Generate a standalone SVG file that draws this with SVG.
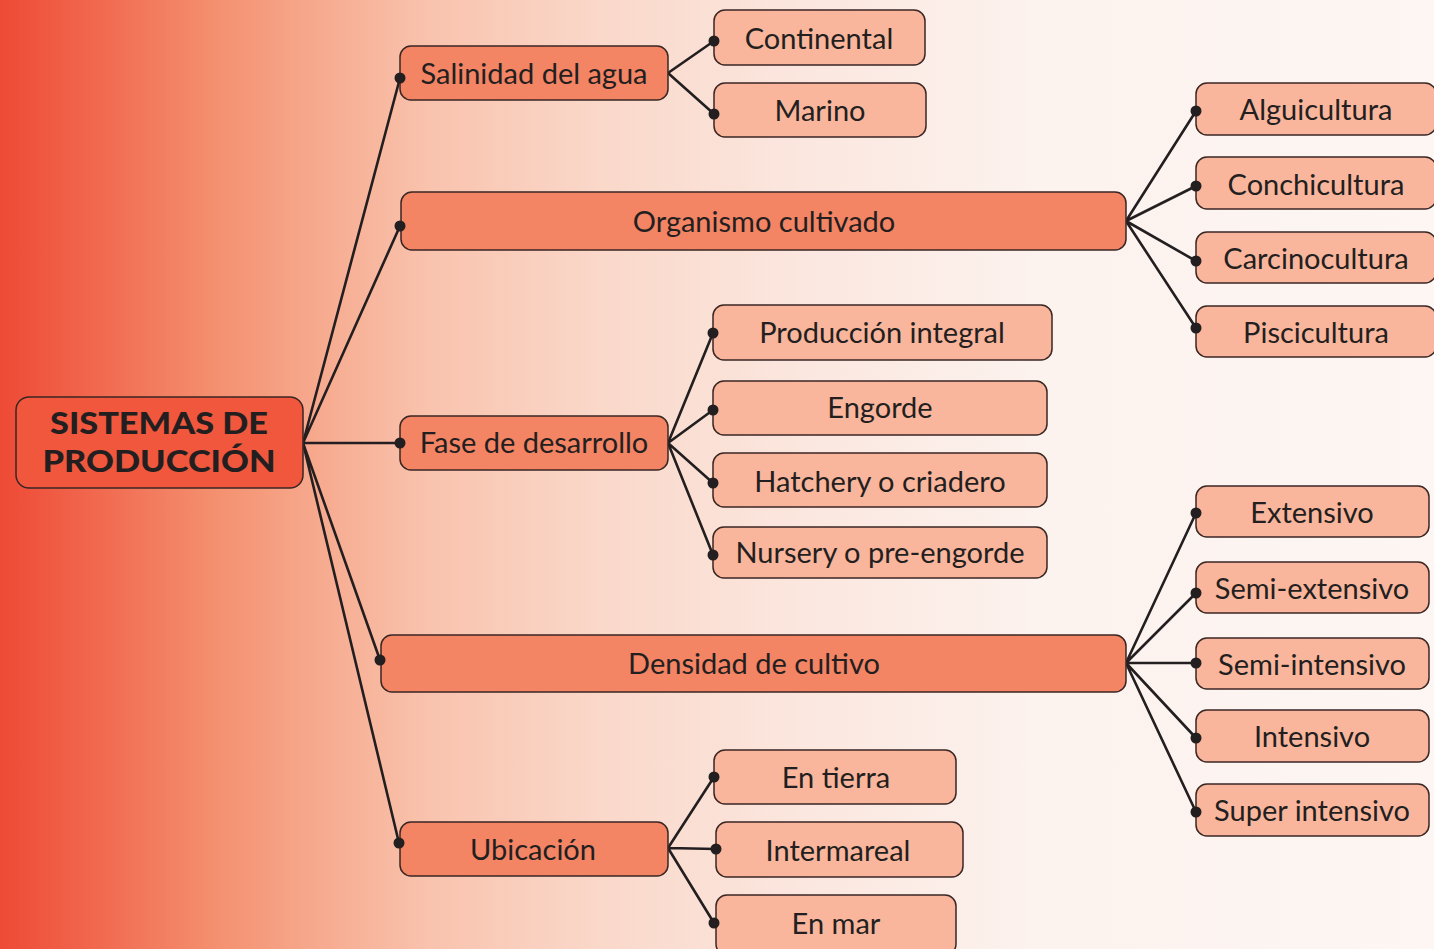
<svg xmlns="http://www.w3.org/2000/svg" width="1434" height="949" viewBox="0 0 1434 949">
<defs>
<linearGradient id="bg" x1="0" y1="0" x2="1434" y2="0" gradientUnits="userSpaceOnUse">
<stop offset="0" stop-color="#ee4a35"/>
<stop offset="0.07" stop-color="#f16a50"/>
<stop offset="0.15" stop-color="#f4906f"/>
<stop offset="0.24" stop-color="#f7b096"/>
<stop offset="0.30" stop-color="#f9c3ae"/>
<stop offset="0.42" stop-color="#fad8ca"/>
<stop offset="0.56" stop-color="#fbe7df"/>
<stop offset="0.72" stop-color="#fcf2ee"/>
<stop offset="1" stop-color="#fdf6f3"/>
</linearGradient>
<style>
.root{fill:#f0573d;stroke:#3a2623;stroke-width:1.5}
.l1{fill:#f38464;stroke:#3a2623;stroke-width:1.5}
.l2{fill:#f9b69c;stroke:#3a2623;stroke-width:1.5}
.t{font-family:Lato,"Liberation Sans",sans-serif;font-size:29px;fill:#231f20;text-anchor:middle}
.tr{font-family:Lato,"Liberation Sans",sans-serif;font-size:31px;font-weight:900;fill:#231f20;text-anchor:middle}
.c{stroke:#231f20;stroke-width:2.6;fill:none}
.d{fill:#231f20}
</style>
</defs>
<rect width="1434" height="949" fill="url(#bg)"/>
<g id="connectors">
<path class="c" d="M303 443L400 78M303 443L400 226M303 443L400 443M303 443L380 660M303 443L399 843"/>
<path class="c" d="M668 73L714 41M668 73L714 114"/>
<path class="c" d="M1126 221L1196 111M1126 221L1196 186M1126 221L1196 261M1126 221L1196 328"/>
<path class="c" d="M668 443L713 333M668 443L713 410M668 443L713 483M668 443L713 555"/>
<path class="c" d="M1126 663L1196 513M1126 663L1196 593M1126 663L1196 663M1126 663L1196 738M1126 663L1196 812"/>
<path class="c" d="M668 848L714 777M668 848L716 849M668 848L714 923"/>
</g>
<g id="root"><rect class="root" x="16" y="397" width="287" height="91" rx="13"/><text class="tr" x="159" y="434" textLength="218" lengthAdjust="spacingAndGlyphs">SISTEMAS DE</text><text class="tr" x="159" y="472" textLength="233" lengthAdjust="spacingAndGlyphs">PRODUCCIÓN</text></g>
<g id="salinidad"><rect class="l1" x="400" y="46" width="268" height="54" rx="11"/><text class="t" x="534" y="84">Salinidad del agua</text></g>
<g id="continental"><rect class="l2" x="714" y="10" width="211" height="55" rx="11"/><text class="t" x="819" y="49">Continental</text></g>
<g id="marino"><rect class="l2" x="714" y="83" width="212" height="54" rx="11"/><text class="t" x="820" y="121">Marino</text></g>
<g id="organismo"><rect class="l1" x="401" y="192" width="725" height="58" rx="11"/><text class="t" x="764" y="232">Organismo cultivado</text></g>
<g id="alguicultura"><rect class="l2" x="1196" y="83" width="240" height="52" rx="11"/><text class="t" x="1316" y="120">Alguicultura</text></g>
<g id="conchicultura"><rect class="l2" x="1196" y="157" width="240" height="52" rx="11"/><text class="t" x="1316" y="195">Conchicultura</text></g>
<g id="carcinocultura"><rect class="l2" x="1196" y="232" width="240" height="51" rx="11"/><text class="t" x="1316" y="269">Carcinocultura</text></g>
<g id="piscicultura"><rect class="l2" x="1196" y="306" width="240" height="51" rx="11"/><text class="t" x="1316" y="343">Piscicultura</text></g>
<g id="fase"><rect class="l1" x="400" y="416" width="268" height="54" rx="11"/><text class="t" x="534" y="453">Fase de desarrollo</text></g>
<g id="produccion"><rect class="l2" x="713" y="305" width="339" height="55" rx="11"/><text class="t" x="882" y="343">Producción integral</text></g>
<g id="engorde"><rect class="l2" x="713" y="381" width="334" height="54" rx="11"/><text class="t" x="880" y="418">Engorde</text></g>
<g id="hatchery"><rect class="l2" x="713" y="453" width="334" height="54" rx="11"/><text class="t" x="880" y="492">Hatchery o criadero</text></g>
<g id="nursery"><rect class="l2" x="713" y="527" width="334" height="51" rx="11"/><text class="t" x="880" y="563">Nursery o pre-engorde</text></g>
<g id="densidad"><rect class="l1" x="381" y="635" width="745" height="57" rx="11"/><text class="t" x="754" y="674">Densidad de cultivo</text></g>
<g id="extensivo"><rect class="l2" x="1196" y="486" width="233" height="51" rx="11"/><text class="t" x="1312" y="523">Extensivo</text></g>
<g id="semiextensivo"><rect class="l2" x="1196" y="562" width="233" height="51" rx="11"/><text class="t" x="1312" y="599">Semi-extensivo</text></g>
<g id="semiintensivo"><rect class="l2" x="1196" y="638" width="233" height="51" rx="11"/><text class="t" x="1312" y="675">Semi-intensivo</text></g>
<g id="intensivo"><rect class="l2" x="1196" y="710" width="233" height="52" rx="11"/><text class="t" x="1312" y="747">Intensivo</text></g>
<g id="superintensivo"><rect class="l2" x="1196" y="784" width="233" height="52" rx="11"/><text class="t" x="1312" y="821">Super intensivo</text></g>
<g id="ubicacion"><rect class="l1" x="400" y="822" width="268" height="54" rx="11"/><text class="t" x="533" y="860">Ubicación</text></g>
<g id="entierra"><rect class="l2" x="714" y="750" width="242" height="54" rx="11"/><text class="t" x="836" y="788">En tierra</text></g>
<g id="intermareal"><rect class="l2" x="716" y="822" width="247" height="55" rx="11"/><text class="t" x="838" y="861">Intermareal</text></g>
<g id="enmar"><rect class="l2" x="716" y="895" width="240" height="60" rx="11"/><text class="t" x="836" y="934">En mar</text></g>
<g id="dots">
<circle class="d" cx="400" cy="78" r="5.5"/><circle class="d" cx="400" cy="226" r="5.5"/><circle class="d" cx="400" cy="443" r="5.5"/><circle class="d" cx="380" cy="660" r="5.5"/><circle class="d" cx="399" cy="843" r="5.5"/>
<circle class="d" cx="714" cy="41" r="5.5"/><circle class="d" cx="714" cy="114" r="5.5"/>
<circle class="d" cx="1196" cy="111" r="5.5"/><circle class="d" cx="1196" cy="186" r="5.5"/><circle class="d" cx="1196" cy="261" r="5.5"/><circle class="d" cx="1196" cy="328" r="5.5"/>
<circle class="d" cx="713" cy="333" r="5.5"/><circle class="d" cx="713" cy="410" r="5.5"/><circle class="d" cx="713" cy="483" r="5.5"/><circle class="d" cx="713" cy="555" r="5.5"/>
<circle class="d" cx="1196" cy="513" r="5.5"/><circle class="d" cx="1196" cy="593" r="5.5"/><circle class="d" cx="1196" cy="663" r="5.5"/><circle class="d" cx="1196" cy="738" r="5.5"/><circle class="d" cx="1196" cy="812" r="5.5"/>
<circle class="d" cx="714" cy="777" r="5.5"/><circle class="d" cx="716" cy="849" r="5.5"/><circle class="d" cx="714" cy="923" r="5.5"/>
</g>
</svg>
